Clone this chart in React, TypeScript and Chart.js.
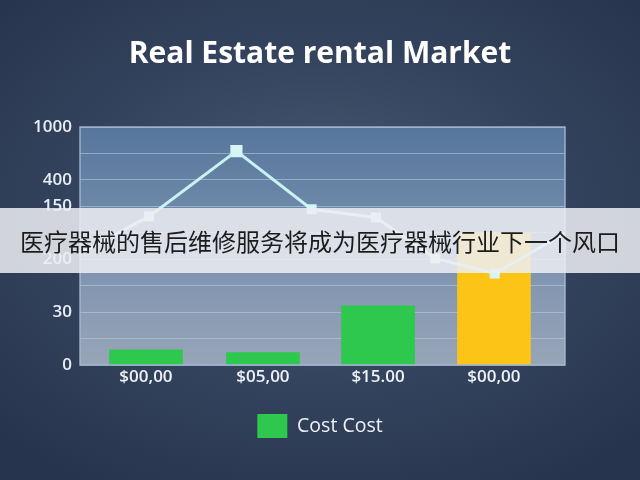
import React, { useEffect, useRef } from "react";
import { Chart, registerables } from "chart.js";

Chart.register(...registerables);

const titleText = "Real Estate rental Market";
const bannerText = "医疗器械的售后维修服务将成为医疗器械行业下一个风口";
const categories = ["$00,00", "$05,00", "$15.00", "$00,00"];
const barX = [0.544, 1.509, 2.458, 3.414];
const barValues = [0.57, 0.47, 2.24, 5.0];
const barColors = ["#2ec84f", "#2ec84f", "#2ec84f", "#fcc417"];
const legendLabel = "Cost Cost";
const lineX = [0, 0.57, 1.29, 1.91, 2.44, 2.93, 3.42, 4.0];
const lineY = [4.22, 5.62, 8.09, 5.89, 5.58, 4.03, 3.46, 4.98];
const pointSizes = [0, 5, 6.5, 5, 5, 5, 5, 0];
const yTickLabels: Record<number, string> = { 0: "0", 2: "30", 4: "200", 6: "150", 7: "400", 9: "1000" };

const plotBg = {
  id: "plotBg",
  beforeDraw(chart: any) {
    const { ctx, chartArea } = chart;
    if (!chartArea) return;
    const { left, top, right, bottom } = chartArea;
    const g = ctx.createLinearGradient(0, top, 0, bottom);
    g.addColorStop(0, "#56769c");
    g.addColorStop(0.5, "#7890ad");
    g.addColorStop(1, "#98a5b8");
    ctx.save();
    ctx.fillStyle = g;
    ctx.fillRect(left, top, right - left, bottom - top);
    ctx.restore();
  },
  afterDraw(chart: any) {
    const { ctx, chartArea } = chart;
    const { left, top, right, bottom } = chartArea;
    ctx.save();
    ctx.strokeStyle = "rgba(165,185,210,0.9)";
    ctx.lineWidth = 1.5;
    ctx.strokeRect(left, top, right - left, bottom - top);
    ctx.restore();
  },
};

export default function App() {
  const ref = useRef<HTMLCanvasElement>(null);
  useEffect(() => {
    if (!ref.current) return;
    const chart = new Chart(ref.current, {
      type: "bar",
      data: {
        datasets: [
          {
            type: "line",
            label: "line",
            data: lineX.map((x, i) => ({ x, y: lineY[i] })),
            borderColor: "#c9f3f3",
            borderWidth: 3,
            pointStyle: "rect",
            pointRadius: pointSizes,
            pointBackgroundColor: "#d6f5f5",
            pointBorderColor: "#d6f5f5",
            tension: 0,
            order: 0,
          } as any,
          {
            type: "bar",
            label: legendLabel,
            data: barX.map((x, i) => ({ x, y: barValues[i] })),
            backgroundColor: barColors,
            borderWidth: 0,
            grouped: false,
            barThickness: 73,
            order: 1,
          } as any,
        ],
      },
      options: {
        animation: false,
        responsive: false,
        devicePixelRatio: 1,
        layout: { padding: { left: 0, right: 0, top: 0, bottom: 32 } },
        scales: {
          x: {
            type: "linear",
            min: 0,
            max: 4,
            offset: false,
            grid: { display: false, drawTicks: false },
            border: { display: false },
            afterBuildTicks(scale: any) {
              scale.ticks = barX.map((v) => ({ value: v }));
            },
            ticks: {
              autoSkip: false,
              maxRotation: 0,
              color: "#eef2f7",
              font: { family: "Open Sans", size: 17, weight: "600" },
              padding: 2,
              callback: (_v: any, i: number) => categories[i],
            },
            afterFit(scale: any) {
              scale.height = 39;
            },
          },
          y: {
            min: 0,
            max: 9,
            grid: { color: "rgba(190,208,230,0.55)", lineWidth: 1, drawTicks: false },
            border: { display: false },
            ticks: {
              stepSize: 1,
              autoSkip: false,
              color: "#e8eef5",
              font: { family: "Open Sans", size: 17, weight: "600" },
              padding: 8,
              callback: (v: any) => yTickLabels[Math.round(Number(v))] ?? "",
            },
            afterFit(scale: any) {
              scale.width = 80;
            },
          },
          yr: {
            position: "right",
            display: true,
            grid: { display: false, drawTicks: false },
            border: { display: false },
            ticks: { display: false },
            afterFit(scale: any) {
              scale.width = 75;
            },
          },
        },
        plugins: {
          title: {
            display: true,
            text: titleText,
            color: "#ffffff",
            font: { family: "Open Sans", size: 30, weight: "bold" },
            padding: { top: 36, bottom: 55 },
          },
          legend: {
            position: "bottom",
            labels: {
              color: "#eef2f7",
              font: { family: "Open Sans", size: 19.5 },
              boxWidth: 30,
              boxHeight: 24,
              padding: 10,
              filter: (item: any) => item.text === legendLabel,
              generateLabels: (c: any) =>
                (Chart.defaults.plugins.legend.labels.generateLabels as any)(c).map((it: any) => ({
                  ...it,
                  fillStyle: "#2ec84f",
                  strokeStyle: "rgba(0,0,0,0)",
                  lineWidth: 0,
                })),
            },
          },
          tooltip: { enabled: false },
        },
      },
      plugins: [plotBg],
    });
    return () => chart.destroy();
  }, []);

  return (
    <div
      style={{
        position: "fixed",
        left: 0,
        top: 0,
        width: 640,
        height: 480,
        overflow: "hidden",
        background:
          "radial-gradient(ellipse 70% 65% at 50% 45%, #4b5a72 0%, #34435d 55%, #27344d 100%)",
      }}
    >
      <canvas ref={ref} width={640} height={480} style={{ position: "absolute", left: 0, top: 0 }} />
      <div
        style={{
          position: "absolute",
          left: 0,
          top: 208,
          width: 640,
          height: 65,
          background: "rgba(236,238,242,0.86)",
          display: "flex",
          alignItems: "center",
          justifyContent: "center",
          fontFamily: "'Noto Sans CJK SC', sans-serif",
          fontSize: 24,
          color: "#1c1c1c",
          whiteSpace: "nowrap",
        }}
      >
        {bannerText}
      </div>
    </div>
  );
}
